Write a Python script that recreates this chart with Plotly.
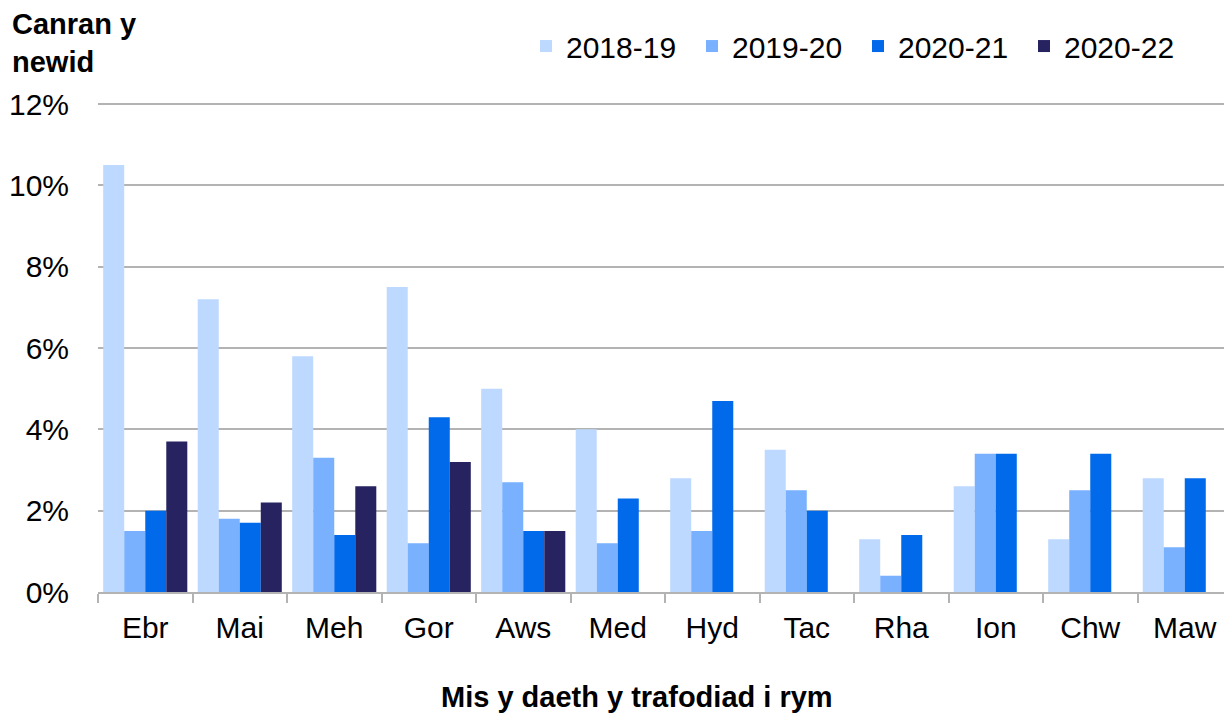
import plotly.graph_objects as go

months = ["Ebr", "Mai", "Meh", "Gor", "Aws", "Med", "Hyd", "Tac", "Rha", "Ion", "Chw", "Maw"]
series_names = ["2018-19", "2019-20", "2020-21", "2020-22"]
v_2018_19 = [10.5, 7.2, 5.8, 7.5, 5.0, 4.0, 2.8, 3.5, 1.3, 2.6, 1.3, 2.8]
v_2019_20 = [1.5, 1.8, 3.3, 1.2, 2.7, 1.2, 1.5, 2.5, 0.4, 3.4, 2.5, 1.1]
v_2020_21 = [2.0, 1.7, 1.4, 4.3, 1.5, 2.3, 4.7, 2.0, 1.4, 3.4, 3.4, 2.8]
v_2020_22 = [3.7, 2.2, 2.6, 3.2, 1.5, None, None, None, None, None, None, None]
colors = ["#bdd9ff", "#79b1ff", "#006aeb", "#272361"]
y_ticks = [0, 2, 4, 6, 8, 10, 12]
y_tick_labels = ["0%", "2%", "4%", "6%", "8%", "10%", "12%"]

FONT = "Liberation Sans, Arial, sans-serif"
OFF = 8  # page body margin
W, H = 1232 - OFF, 718 - OFF
Y_TOP = 12.05
# reference pixel positions (page coords)
ref_plot_left, ref_zero_y, ref_twelve_y = 98, 592, 104
px_per_unit = (ref_zero_y - ref_twelve_y) / 12.0
ref_plot_top = ref_zero_y - Y_TOP * px_per_unit
L = ref_plot_left - OFF
T = ref_plot_top - OFF
B = H - (ref_zero_y - OFF)
R = 0
pw, ph = W - L - R, H - T - B


def px_x(x):  # page x -> paper x
    return (x - OFF - L) / pw


def px_y(y):  # page y -> paper y
    return ((ref_zero_y - OFF) - (y - OFF)) / ph


fig = go.Figure()
for name, vals, col in zip(series_names, [v_2018_19, v_2019_20, v_2020_21, v_2020_22], colors):
    fig.add_trace(go.Bar(x=months, y=vals, name=name, marker=dict(color=col, line=dict(width=0))))

fig.update_layout(
    width=W, height=H,
    margin=dict(l=L, r=R, t=T, b=B, autoexpand=False),
    paper_bgcolor="white", plot_bgcolor="white",
    font=dict(family=FONT, size=30, color="black"),
    barmode="group", bargap=0.11, bargroupgap=0,
    showlegend=True,
    legend=dict(orientation="h", x=px_x(526), xanchor="left",
                y=px_y(46), yanchor="middle",
                font=dict(size=30), itemwidth=30, tracegroupgap=0,
                entrywidth=121, entrywidthmode="pixels",
                bgcolor="rgba(0,0,0,0)"),
    xaxis=dict(showline=True, linecolor="#b3b3b3", linewidth=2,
               ticks="outside", tickson="boundaries", ticklen=9, tickwidth=2, tickcolor="#b3b3b3",
               showgrid=False, tickfont=dict(size=30), ticklabelstandoff=8),
    yaxis=dict(range=[0, Y_TOP], tickvals=y_ticks, ticktext=y_tick_labels,
               showgrid=True, gridcolor="#b3b3b3", gridwidth=2, showline=False,
               zeroline=False, ticks="", tickfont=dict(size=30), ticklabelstandoff=28),
    annotations=[
        dict(text="<b>Canran y<br>newid</b>", xref="paper", yref="paper",
             x=px_x(10), y=px_y(6), xanchor="left", yanchor="top",
             showarrow=False, align="left", font=dict(size=29, family=FONT)),
        dict(text="<b>Mis y daeth y trafodiad i rym</b>", xref="paper", yref="paper",
             x=px_x(637), y=px_y(697), xanchor="center", yanchor="middle",
             showarrow=False, font=dict(size=29, family=FONT)),
    ],
)

fig.write_html("out.html")
